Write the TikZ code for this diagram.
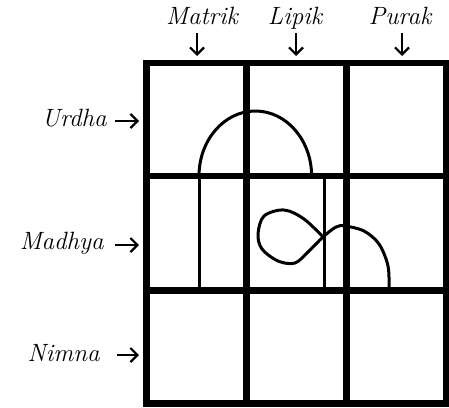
\documentclass[tikz,border=0pt]{standalone}
\usetikzlibrary{arrows.meta}
\tikzset{
  garis/.style={line width=3.25pt},
  tipis/.style={line width=1.5pt},
  lengkung/.style={line width=1.5pt,line join=round},
  panah/.style={line width=1.1pt,-{Straight Barb[length=3.5pt,width=7pt]}},
  teks/.style={font=\fontsize{12.5}{14}\selectfont\itshape,inner sep=0pt}
}

\begin{document}
\begin{tikzpicture}[x=0.5pt,y=-0.5pt]
  \useasboundingbox (0,0) rectangle (449,407);

  % grid
  \coordinate (G1) at (146.5,63);
  \coordinate (G2) at (446,403.5);
  \draw[garis] (G1) rectangle (G2);
  \foreach \x in {246.7,346.7} \draw[garis] (\x,63) -- (\x,403.5);
  \foreach \y in {176,290.5} \draw[garis] (146.5,\y) -- (446,\y);

  % column and row names
  \node[teks,anchor=base] (mat) at (202,25)  {Matrik};
  \node[teks,anchor=base] (lip) at (295,25)  {Lipik};
  \node[teks,anchor=base] (pur) at (400,25)  {Purak};
  \node[teks,anchor=base east] (urd) at (107,126) {Urdha};
  \node[teks,anchor=base east] (mad) at (104,249) {Madhya};
  \node[teks,anchor=base east] (nim) at (100,361) {Nimna};

  \coordinate (a1) at (197,33);  \coordinate (b1) at (197,56);
  \coordinate (a2) at (296,33);  \coordinate (b2) at (296,56);
  \coordinate (a3) at (402,33);  \coordinate (b3) at (402,56);
  \coordinate (a4) at (115,121); \coordinate (b4) at (139,121);
  \coordinate (a5) at (115,245); \coordinate (b5) at (139,245);
  \coordinate (a6) at (117,355); \coordinate (b6) at (139,355);
  \foreach \i in {1,...,6} \draw[panah] (a\i) -- (b\i);

  % letter strokes
  \draw[tipis] (199,176) -- (199,290.5);
  \draw[tipis] (324,176) -- (324,290.5);
  \draw[lengkung] (199,176) arc[start angle=180,end angle=360,x radius=56.3,y radius=65];
  \draw[lengkung] plot[smooth,tension=0.55] coordinates {
    (389,290.5) (388,266) (379,244) (364,231) (345,226) (336,227)
    (323,237) (309,251) (295,263) (278,261) (262,249) (258,234)
    (264,216) (284,210) (304,219) (325,239)};
\end{tikzpicture}
\end{document}
